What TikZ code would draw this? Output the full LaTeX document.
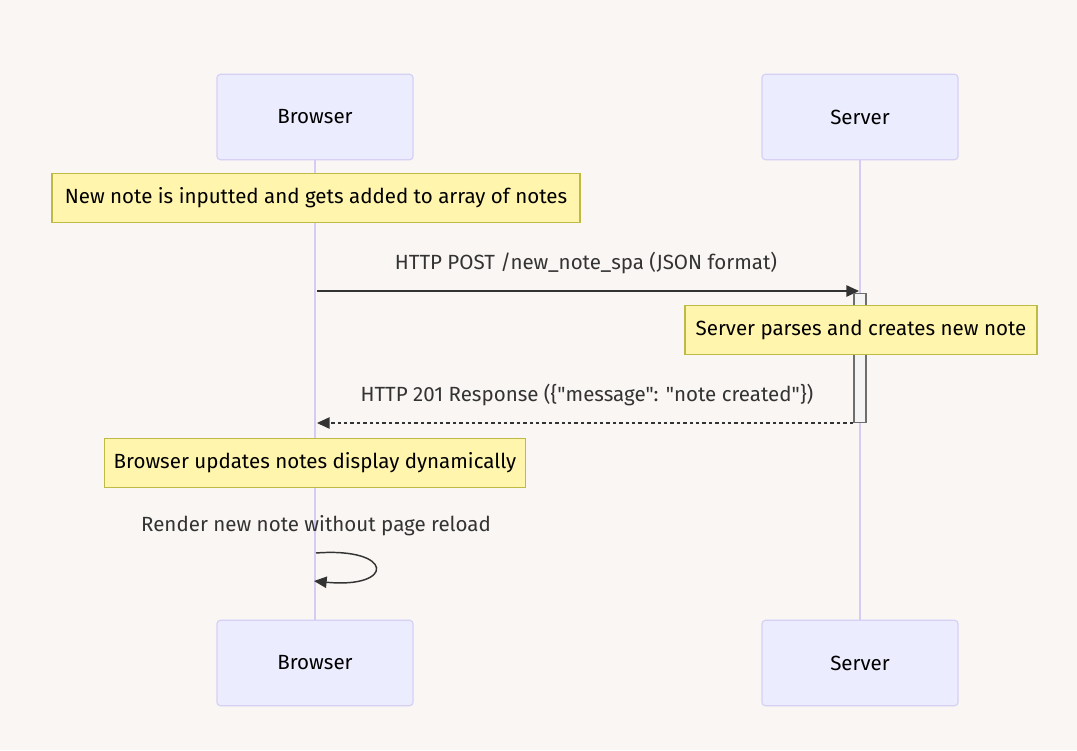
\documentclass[tikz,border=0pt]{standalone}
\usepackage{fontspec}
\setmainfont{Fira Sans}[Ligatures=TeXOff]
\usepackage{tikz}
\usetikzlibrary{arrows.meta}
\definecolor{bgc}{RGB}{249,246,243}
\definecolor{actfill}{RGB}{236,236,255}
\definecolor{actline}{RGB}{214,208,245}
\definecolor{lifec}{RGB}{214,203,242}
\definecolor{notefill}{RGB}{255,245,173}
\definecolor{noteline}{RGB}{190,186,70}
\definecolor{msgc}{RGB}{51,51,51}
\definecolor{actvfill}{RGB}{244,244,244}
\definecolor{actvline}{RGB}{110,110,110}

\begin{document}
\begin{tikzpicture}[x=0.75pt,y=-0.75pt,
    actor/.style={draw=actline, fill=actfill, rounded corners=2.5pt, line width=0.9pt,
      minimum width=147pt, minimum height=64pt, font=\fontsize{15.4}{17}\selectfont, inner sep=0pt},
    notebox/.style={draw=noteline, fill=notefill, line width=0.8pt, minimum height=37pt,
      font=\fontsize{15.4}{17}\selectfont, text=black, inner xsep=7pt},
    msglabel/.style={font=\fontsize{15.4}{17}\selectfont, text=msgc},
    msg/.style={draw=msgc, line width=1.1pt, -{Triangle[length=9.5pt,width=8.5pt]}}]
  \fill[bgc] (0,0) rectangle (1077,750);
  \useasboundingbox (0,0) rectangle (1077,750);

  % lifelines
  \draw[lifec, line width=1.6pt] (315,159) -- (315,620);
  \draw[lifec, line width=1.6pt] (860,159) -- (860,620);

  \node (browserTop) at (315,117) [actor] {Browser};
  \node (serverTop) at (860,117) [actor] {Server};
  \node (browserBot) at (315,663) [actor] {Browser};
  \node (serverBot) at (860,663) [actor] {Server};

  \node (note1) at (316,198) [notebox, minimum width=396pt] {New note is inputted and gets added to array of notes};

  \node (postL) at (316,291) [inner sep=0pt] {};
  \node (postR) at (860,291) [inner sep=0pt] {};
  \draw (586,263) node [msglabel] {HTTP POST /new\_note\_spa (JSON format)};
  \draw[msg] (postL) -- (postR);

  % activation
  \node (actv) at (860,358) [draw=actvline, fill=actvfill, line width=0.8pt,
    minimum width=9pt, minimum height=96.5pt, inner sep=0pt] {};

  \node (note2) at (861,330) [notebox, minimum width=264pt] {Server parses and creates new note};

  \node (respR) at (854,423) [inner sep=0pt] {};
  \node (respL) at (316,423) [inner sep=0pt] {};
  \draw (587,395) node [msglabel] {HTTP 201 Response (\{"message": "note created"\})};
  \draw[msg, dash pattern=on 2.6pt off 2.2pt, line width=1pt] (respR) -- (respL);

  \node (note3) at (315,463) [notebox, minimum width=315pt] {Browser updates notes display dynamically};

  \draw (316,526) node [msglabel] {Render new note without page reload};
  \coordinate (selfA) at (316,553);
  \coordinate (selfB) at (314,581);
  \draw[msg] (selfA) .. controls (395,547) and (395,589) .. (selfB);
\end{tikzpicture}
\end{document}
